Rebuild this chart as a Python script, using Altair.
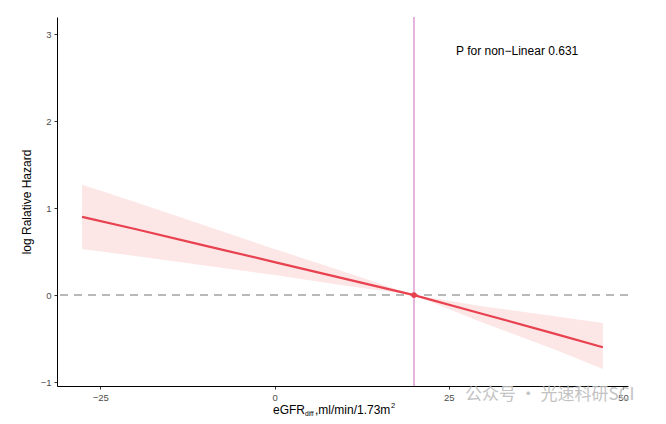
import altair as alt
import pandas as pd

# data
x_vals = [-27.6, -20, -10, 0, 10, 20, 30, 40, 47.1]
fit = [0.90, 0.76, 0.57, 0.38, 0.19, 0.0, -0.22, -0.44, -0.60]
upper = [1.27, 1.07, 0.80, 0.53, 0.27, 0.0, -0.13, -0.24, -0.32]
lower = [0.53, 0.45, 0.34, 0.23, 0.11, 0.0, -0.32, -0.62, -0.85]
ref_x = [20.0]
ref_y = [0.0]
x_ticks = [-25, 0, 25, 50]
y_ticks = [-1, 0, 1, 2, 3]
p_label = ["P for non\u2212Linear 0.631"]

df = pd.DataFrame({"x": x_vals, "fit": fit, "upper": upper, "lower": lower})
ref = pd.DataFrame({"x": ref_x, "y": ref_y})

FONT = "Liberation Sans"
W, H = 571, 369

xs = alt.Scale(domain=[-31.2, 50.7], nice=False, zero=False)
ys = alt.Scale(domain=[-1.046, 3.2], nice=False, zero=False)

xax = alt.Axis(values=x_ticks, format="d", title=None, grid=False, tickSize=3, labelFontSize=9.5,
               labelColor="#4d4d4d", tickColor="#333333", domainColor="#000000",
               labelFont=FONT, labelPadding=3)
yax = alt.Axis(values=y_ticks, format="d", title="log Ralative Hazard", grid=False, tickSize=3,
               labelFontSize=9.5, labelColor="#4d4d4d", tickColor="#333333",
               domainColor="#000000", labelFont=FONT, titleFont=FONT, titleFontSize=12,
               titleFontWeight="normal", titleColor="#000000", titlePadding=7, labelPadding=3)

base = alt.Chart(df)

band = base.mark_area(color="#FDE6E6", opacity=1).encode(
    x=alt.X("x:Q", scale=xs, axis=xax),
    y=alt.Y("upper:Q", scale=ys, axis=yax),
    y2="lower:Q",
)

hline = alt.Chart(ref).mark_rule(color="#B8B8B8", strokeWidth=2, strokeDash=[8, 6]).encode(
    y=alt.Y("y:Q", scale=ys)
)

vline = alt.Chart(ref).mark_rule(color="#E6B3DD", strokeWidth=2).encode(
    x=alt.X("x:Q", scale=xs)
)

line = base.mark_line(color="#E8414F", strokeWidth=2.2).encode(
    x=alt.X("x:Q", scale=xs),
    y=alt.Y("fit:Q", scale=ys),
)

pt = alt.Chart(ref).mark_circle(color="#E8414F", size=32, opacity=1).encode(
    x=alt.X("x:Q", scale=xs),
    y=alt.Y("y:Q", scale=ys),
)

ptext = alt.Chart(pd.DataFrame({"t": p_label, "x": [34.8], "y": [2.81]})).mark_text(
    font=FONT, fontSize=12, color="#000000", align="center", baseline="middle"
).encode(x=alt.X("x:Q", scale=xs), y=alt.Y("y:Q", scale=ys), text="t:N")

# x-axis title with subscript / superscript pieces
def piece(txt, x, y, size, color="#000000", font=FONT, opacity=1.0):
    return alt.Chart(pd.DataFrame({"t": [txt]})).mark_text(
        font=font, fontSize=size, color=color, align="left", baseline="middle", opacity=opacity
    ).encode(x=alt.value(x), y=alt.value(y), text="t:N")

title_y = 393
xt = (
    piece("eGFR", 216, title_y, 12)
    + piece("diff", 248, title_y + 4, 6.5)
    + piece(",ml/min/1.73m", 258, title_y, 12)
    + piece("2", 334, title_y - 4, 7.5)
)

wm = piece("公众号 · 光速科研SCI", 408, 378, 17, color="#bdbdbd",
           font="Noto Sans CJK SC", opacity=0.9)

chart = alt.layer(band, vline, hline, line, pt, ptext, xt, wm).properties(
    width=W, height=H,
    autosize=alt.AutoSizeParams(type="none"),
    padding={"left": 49, "top": 9, "right": 30, "bottom": 30},
).configure(background="#ffffff").configure_view(stroke=None, strokeWidth=0)

chart.save("out.html", embed_options={"renderer": "svg", "actions": False})
